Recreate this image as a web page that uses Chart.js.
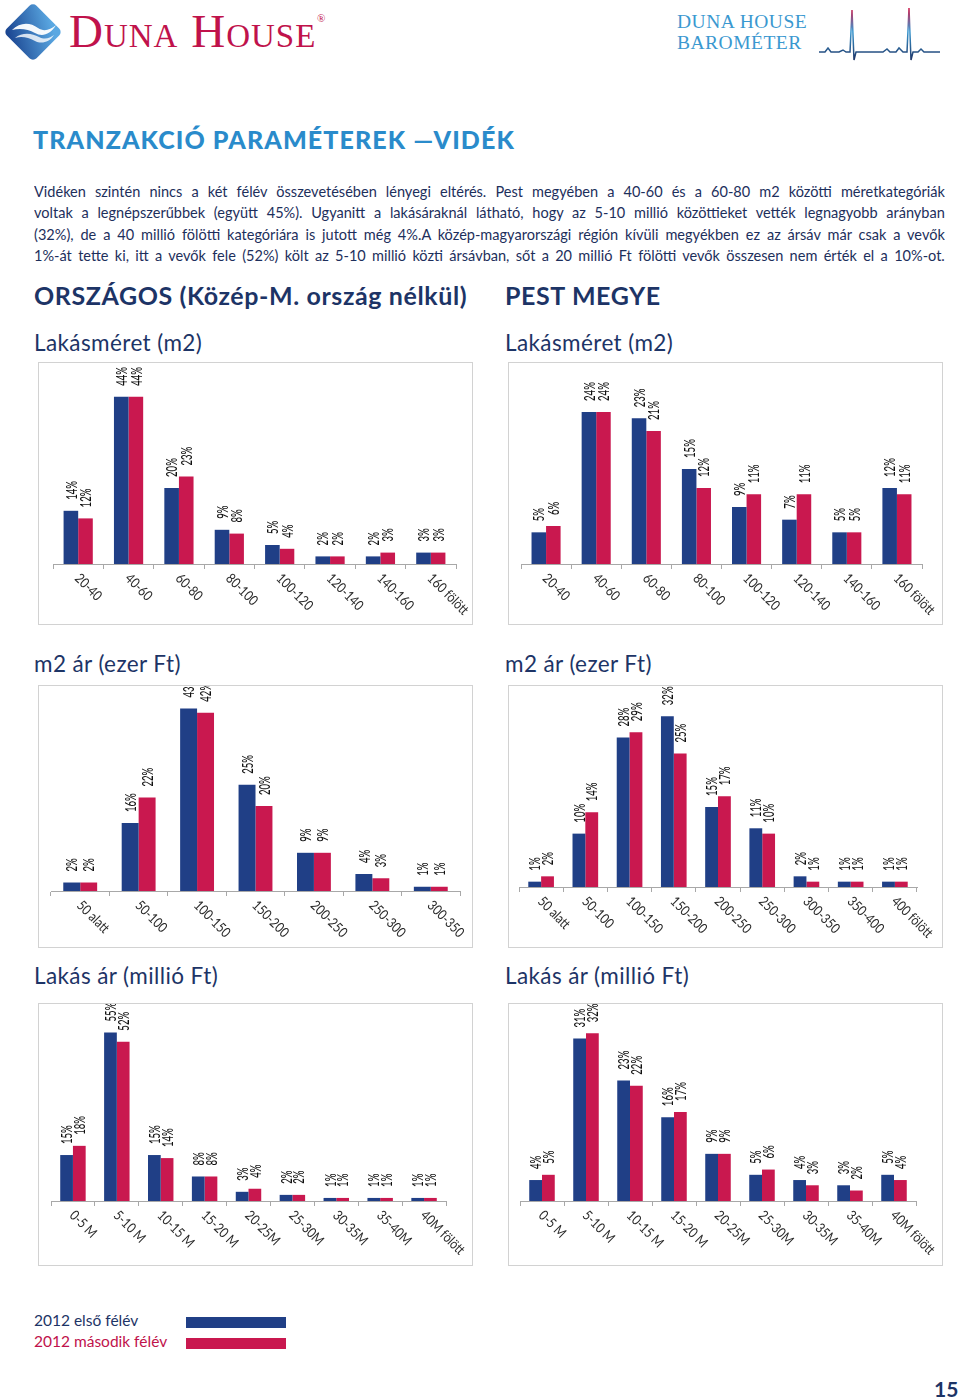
<!DOCTYPE html>
<html>
<head>
<meta charset="utf-8">
<script src="https://cdn.jsdelivr.net/npm/chart.js@4.4.1/dist/chart.umd.min.js"></script>
<style>
  body { margin: 0; background: #fff; }
  #page { position: relative; width: 960px; height: 1400px; overflow: hidden; font-family: Lato, "Noto Sans", sans-serif; color: #1d3466; }
  .abs { position: absolute; white-space: nowrap; line-height: 1; }
  .brand { font-family: "Liberation Serif", serif; font-variant: small-caps; color: #c0124b; }
  .baro { font-family: "Liberation Serif", serif; color: #3a98d0; font-size: 19.5px; line-height: 21px; letter-spacing: 0.5px; }
  .title { font-size: 25px; font-weight: 900; color: #2a8bcb; letter-spacing: 1.1px; }
  .para { left: 34px; font-size: 15.8px; transform-origin: 0 0; transform: scaleX(0.92); width: 990px; text-align: justify; text-align-last: justify; white-space: normal; color: #1d2f5c; }
  .region { font-size: 25px; font-weight: 700; color: #1d3466; letter-spacing: 0.6px; }
  .sub { font-size: 22.5px; color: #1d3466; letter-spacing: 0.4px; }
  .box { position: absolute; width: 435px; height: 263px; border: 1px solid #d2d2d2; box-sizing: border-box; background: #fff; }
  .box canvas { display: block; }
  .leg { font-size: 15.5px; }
</style>
</head>
<body>
<div id="page">
  <svg class="abs" style="left:0;top:0" width="70" height="66" viewBox="0 0 70 66">
    <defs>
      <linearGradient id="dg" x1="0" y1="1" x2="0.6" y2="0">
        <stop offset="0" stop-color="#173f8c"/>
        <stop offset="1" stop-color="#5aa8e2"/>
      </linearGradient>
    </defs>
    <rect x="12" y="11" width="42" height="42" rx="5" transform="rotate(45 33 32)" fill="url(#dg)"/>
    <path d="M12 30 C20 22, 30 22, 38 28 C44 32, 50 30, 56 25 C50 35, 42 37, 35 33 C28 29, 20 28, 12 30Z" fill="#fff" opacity="0.95"/>
    <path d="M15 38 C22 32, 32 33, 39 37 C45 40, 50 38, 54 35 C49 43, 41 44, 35 41 C28 37, 21 36, 15 38Z" fill="#fff" opacity="0.8"/>
  </svg>
  <div class="abs brand" style="left:69px;top:8px;font-size:47px;letter-spacing:1px">Duna House</div>
  <div class="abs brand" style="left:317px;top:13px;font-size:11px">®</div>

  <div class="abs baro" style="left:677px;top:11px">DUNA HOUSE<br>BAROMÉTER</div>
  <svg class="abs" style="left:815px;top:4px" width="130" height="62" viewBox="0 0 130 62">
    <defs>
      <linearGradient id="hg" x1="0" y1="0" x2="0" y2="1">
        <stop offset="0" stop-color="#d0204f"/>
        <stop offset="0.45" stop-color="#3a98d0"/>
        <stop offset="1" stop-color="#1d3466"/>
      </linearGradient>
    </defs>
    <polyline fill="none" stroke="url(#hg)" stroke-width="1.5" points="4,48 10,48 13,44 16,48 24,48 28,46 31,48 35,48 37,6 39,56 41,48 55,48 68,48 72,45 75,48 81,48 84,44 88,48 92,48 94,4 96,56 98,48 103,48 106,45 109,48 125,48"/>
  </svg>

  <div class="abs title" style="left:33px;top:127px">TRANZAKCIÓ PARAMÉTEREK —VIDÉK</div>

  <div class="abs para" style="top:183px">Vidéken szintén nincs a két félév összevetésében lényegi eltérés. Pest megyében a 40-60 és a 60-80 m2 közötti méretkategóriák</div>
  <div class="abs para" style="top:204px">voltak a legnépszerűbbek (együtt 45%). Ugyanitt a lakásáraknál látható, hogy az 5-10 millió közöttieket vették legnagyobb arányban</div>
  <div class="abs para" style="top:226px">(32%), de a 40 millió fölötti kategóriára is jutott még 4%.A közép-magyarországi régión kívüli megyékben ez az ársáv már csak a vevők</div>
  <div class="abs para" style="top:247px">1%-át tette ki, itt a vevők fele (52%) költ az 5-10 millió közti ársávban, sőt a 20 millió Ft fölötti vevők összesen nem érték el a 10%-ot.</div>

  <div class="abs region" style="left:34px;top:283px">ORSZÁGOS (Közép-M. ország nélkül)</div>
  <div class="abs region" style="left:505px;top:283px">PEST MEGYE</div>

  <div class="abs sub" style="left:34px;top:332px">Lakásméret (m2)</div>
  <div class="abs sub" style="left:505px;top:332px">Lakásméret (m2)</div>
  <div class="abs sub" style="left:34px;top:653px">m2 ár (ezer Ft)</div>
  <div class="abs sub" style="left:505px;top:653px">m2 ár (ezer Ft)</div>
  <div class="abs sub" style="left:34px;top:965px">Lakás ár (millió Ft)</div>
  <div class="abs sub" style="left:505px;top:965px">Lakás ár (millió Ft)</div>

  <div class="box" style="left:38px;top:362px"><canvas id="c1" width="433" height="261"></canvas></div>
  <div class="box" style="left:508px;top:362px"><canvas id="c2" width="433" height="261"></canvas></div>
  <div class="box" style="left:38px;top:685px"><canvas id="c3" width="433" height="261"></canvas></div>
  <div class="box" style="left:508px;top:685px"><canvas id="c4" width="433" height="261"></canvas></div>
  <div class="box" style="left:38px;top:1003px"><canvas id="c5" width="433" height="261"></canvas></div>
  <div class="box" style="left:508px;top:1003px"><canvas id="c6" width="433" height="261"></canvas></div>

  <div class="abs leg" style="left:34px;top:1313px;color:#1d3466">2012 első félév</div>
  <div class="abs leg" style="left:34px;top:1334px;color:#c0124b">2012 második félév</div>
  <div class="abs" style="left:186px;top:1317px;width:100px;height:11px;background:#203f86"></div>
  <div class="abs" style="left:186px;top:1338px;width:100px;height:11px;background:#c9184f"></div>

  <div class="abs" style="left:934px;top:1378px;font-size:21px;font-weight:700;color:#1d3466">15</div>
</div>

<script>
// category labels
const sizeLabels = ['20-40', '40-60', '60-80', '80-100', '100-120', '120-140', '140-160', '160 fölött']
const sqmPriceLabelsVidek = ['50 alatt', '50-100', '100-150', '150-200', '200-250', '250-300', '300-350']
const sqmPriceLabelsPest = ['50 alatt', '50-100', '100-150', '150-200', '200-250', '250-300', '300-350', '350-400', '400 fölött']
const priceLabels = ['0-5 M', '5-10 M', '10-15 M', '15-20 M', '20-25M', '25-30M', '30-35M', '35-40M', '40M fölött']

// series: first half / second half 2012 (%)
const sizeVidekFirst = [14, 44, 20, 9, 5, 2, 2, 3]
const sizeVidekSecond = [12, 44, 23, 8, 4, 2, 3, 3]
const sizePestFirst = [5, 24, 23, 15, 9, 7, 5, 12]
const sizePestSecond = [6, 24, 21, 12, 11, 11, 5, 11]

const sqmVidekFirst = [2, 16, 43, 25, 9, 4, 1]
const sqmVidekSecond = [2, 22, 42, 20, 9, 3, 1]
const sqmPestFirst = [1, 10, 28, 32, 15, 11, 2, 1, 1]
const sqmPestSecond = [2, 14, 29, 25, 17, 10, 1, 1, 1]

const priceVidekFirst = [15, 55, 15, 8, 3, 2, 1, 1, 1]
const priceVidekSecond = [18, 52, 14, 8, 4, 2, 1, 1, 1]
const pricePestFirst = [4, 31, 23, 16, 9, 5, 4, 3, 5]
const pricePestSecond = [5, 32, 22, 17, 9, 6, 3, 2, 4]

const seriesNames = ['2012 első félév', '2012 második félév']
const blue = '#203f86'
const red = '#c9184f'

// rotated % labels above each bar
const valueLabels = {
  id: 'valueLabels',
  afterDatasetsDraw(chart) {
    const ctx = chart.ctx
    chart.data.datasets.forEach((ds, di) => {
      chart.getDatasetMeta(di).data.forEach((bar, i) => {
        ctx.save()
        ctx.translate(bar.x + 0.5, bar.y - 11)
        ctx.rotate(-Math.PI / 2)
        ctx.scale(0.6, 1)
        ctx.font = '500 16px Lato'
        ctx.fillStyle = '#111'
        ctx.textAlign = 'left'
        ctx.textBaseline = 'middle'
        ctx.fillText(ds.data[i] + '%', 0, 0)
        ctx.restore()
      })
    })
  }
}

// category names slanted downwards under the axis
const slantLabels = {
  id: 'slantLabels',
  afterDraw(chart) {
    const ctx = chart.ctx
    const xs = chart.scales.x
    const y0 = chart.chartArea.bottom
    chart.data.labels.forEach((lab, i) => {
      ctx.save()
      ctx.translate(xs.getPixelForTick(i) - 1, y0 + 12)
      ctx.rotate(Math.PI / 4)
      ctx.scale(0.84, 1)
      ctx.font = '14px Lato'
      ctx.fillStyle = '#2b2b2b'
      ctx.textAlign = 'left'
      ctx.textBaseline = 'middle'
      ctx.fillText(lab, 0, 0)
      ctx.restore()
    })
  }
}

const makeChart = (id, labels, first, second, yMax, axisY, padL, padR) => {
  const ctx = document.getElementById(id).getContext('2d')
  return new Chart(ctx, {
    type: 'bar',
    data: {
      labels: labels,
      datasets: [
        { label: seriesNames[0], data: first, backgroundColor: blue },
        { label: seriesNames[1], data: second, backgroundColor: red }
      ]
    },
    options: {
      responsive: false,
      animation: false,
      layout: { padding: { top: 11, left: padL, right: padR, bottom: 261 - axisY - 5 } },
      datasets: { bar: { categoryPercentage: 0.58, barPercentage: 1 } },
      plugins: { legend: { display: false }, tooltip: { enabled: false } },
      scales: {
        x: {
          grid: { drawOnChartArea: false, drawTicks: true, tickLength: 5, color: '#a8a8a8', offset: true },
          border: { color: '#a8a8a8' },
          ticks: { display: false }
        },
        y: { display: false, min: 0, max: yMax }
      }
    },
    plugins: [valueLabels, slantLabels]
  })
}

makeChart('c1', sizeLabels, sizeVidekFirst, sizeVidekSecond, 50, 201, 14, 16)
makeChart('c2', sizeLabels, sizePestFirst, sizePestSecond, 30, 201, 12, 20)
makeChart('c3', sqmPriceLabelsVidek, sqmVidekFirst, sqmVidekSecond, 45.7, 205, 12, 12)
makeChart('c4', sqmPriceLabelsPest, sqmPestFirst, sqmPestSecond, 35.6, 201, 10, 25)
makeChart('c5', priceLabels, priceVidekFirst, priceVidekSecond, 60.7, 197, 12, 26)
makeChart('c6', priceLabels, pricePestFirst, pricePestSecond, 35.5, 197, 11, 26)
</script>
</body>
</html>
